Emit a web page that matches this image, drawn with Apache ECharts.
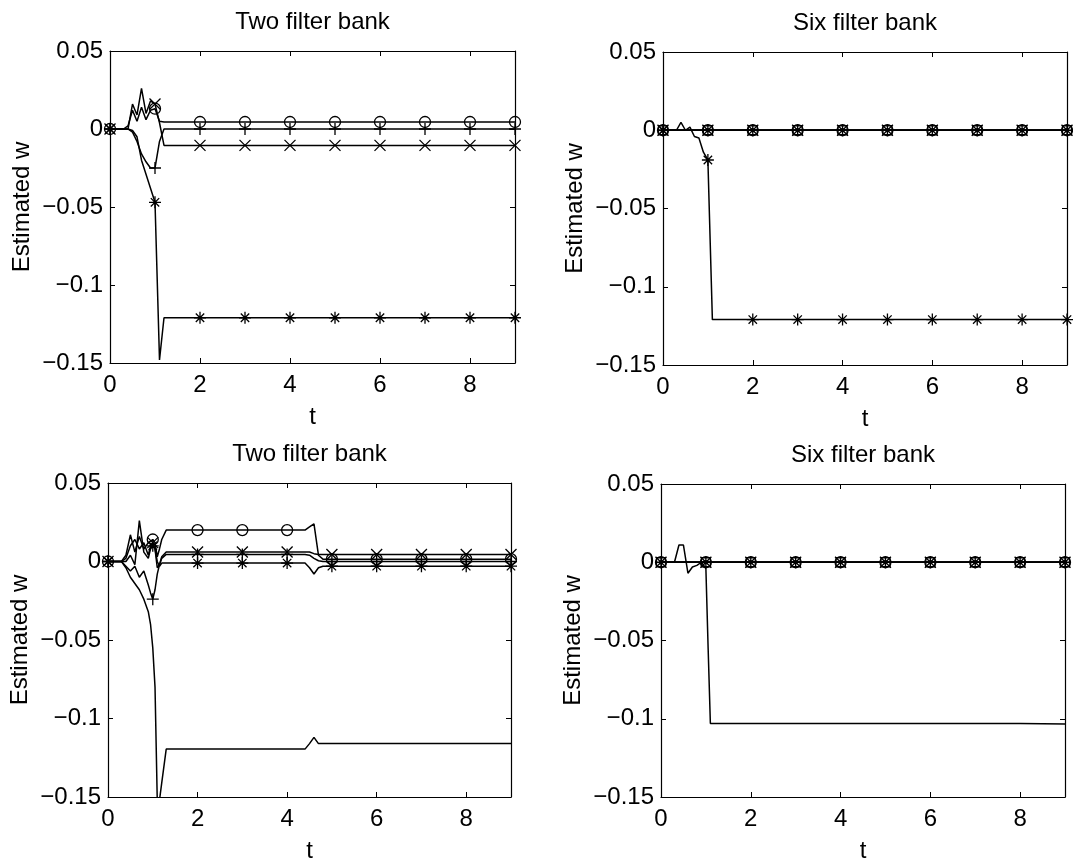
<!DOCTYPE html>
<html>
<head>
<meta charset="utf-8">
<script src="https://cdn.jsdelivr.net/npm/echarts@6/dist/echarts.min.js"></script>
<style>
  html, body { margin: 0; padding: 0; background: #fff; }
  #chart { width: 1073px; height: 864px; }
</style>
</head>
<body>
<div id="chart"></div>
<script>
// ---- data ----
const titles = ['Two filter bank', 'Six filter bank', 'Two filter bank', 'Six filter bank'];
const xTicks = [0, 2, 4, 6, 8];
const yTicks = [-0.15, -0.1, -0.05, 0, 0.05];

// top left: two filter bank
const tA = [0, 0.1, 0.2, 0.3, 0.4, 0.5, 0.6, 0.7, 0.8, 0.9, 1, 1.1, 1.2, 2, 3, 4, 5, 6, 7, 8, 9];
const aO = [0, 0, 0, 0, 0.002, 0.012, 0.005, 0.014, 0.006, 0.012, 0.013, 0.005, 0.0045, 0.0045, 0.0045, 0.0045, 0.0045, 0.0045, 0.0045, 0.0045, 0.0045];
const aX = [0, 0, 0, 0, 0, 0.016, 0.009, 0.026, 0.010, 0.018, 0.016, 0.004, -0.0105, -0.0105, -0.0105, -0.0105, -0.0105, -0.0105, -0.0105, -0.0105, -0.0105];
const aP = [0, 0, 0, 0, 0, -0.002, -0.008, -0.016, -0.021, -0.025, -0.025, -0.008, 0, 0, 0, 0, 0, 0, 0, 0, 0];
const aS = [0, 0, 0, 0, 0, -0.001, -0.005, -0.020, -0.029, -0.038, -0.047, -0.148, -0.121, -0.121, -0.121, -0.121, -0.121, -0.121, -0.121, -0.121, -0.121];

// top right: six filter bank
const tB = [0, 0.1, 0.2, 0.3, 0.4, 0.5, 0.6, 0.7, 0.8, 0.9, 1, 1.1, 1.2, 2, 3, 4, 5, 6, 7, 8, 9];
const bFlat = [0, 0, 0, 0, 0, 0, 0, 0, 0, 0, 0, 0, 0, 0, 0, 0, 0, 0, 0, 0, 0];
const bS = [0, 0, 0, 0, 0.005, 0, 0.002, -0.004, -0.005, -0.014, -0.019, -0.121, -0.121, -0.121, -0.121, -0.121, -0.121, -0.121, -0.121, -0.121, -0.121];

// bottom left: two filter bank
const tC = [0, 0.1, 0.2, 0.3, 0.4, 0.5, 0.6, 0.7, 0.8, 0.9, 0.95, 1, 1.05, 1.1, 1.15, 1.2, 1.3, 2, 3, 4, 4.4, 4.5, 4.6, 4.7, 4.8, 5, 6, 7, 8, 9];
const cO = [0, 0, 0, 0, 0.004, 0.017, 0.006, 0.016, 0.008, 0.012, 0.013, 0.014, 0.012, 0.003, 0.008, 0.014, 0.020, 0.020, 0.020, 0.020, 0.020, 0.022, 0.024, 0.004, 0.0015, 0.0015, 0.0015, 0.0015, 0.0015, 0.0015];
const cX = [0, 0, 0, 0, 0.002, 0.010, 0.014, 0.008, 0.012, 0.004, 0.010, 0.012, 0.008, -0.004, -0.002, 0.003, 0.006, 0.006, 0.006, 0.006, 0.006, 0.006, 0.005, 0.0045, 0.0045, 0.0045, 0.0045, 0.0045, 0.0045, 0.0045];
const cP = [0, 0, 0, 0, -0.003, -0.006, -0.003, -0.010, -0.006, -0.015, -0.020, -0.024, -0.018, -0.008, -0.002, 0.002, 0.0045, 0.0045, 0.0045, 0.0045, 0.0045, 0.004, 0.002, 0.0005, 0, 0, 0, 0, 0, 0];
const cS = [0, 0, 0, 0, 0, 0.004, -0.002, 0.026, 0.006, 0.002, 0.008, 0.010, 0.008, 0, -0.003, -0.001, -0.001, -0.001, -0.001, -0.001, -0.001, -0.004, -0.008, -0.004, -0.003, -0.003, -0.003, -0.003, -0.003, -0.003];
const cU = [0, 0, 0, 0, -0.004, -0.010, -0.014, -0.018, -0.024, -0.032, -0.040, -0.055, -0.080, -0.152, -0.152, -0.141, -0.1195, -0.1195, -0.1195, -0.1195, -0.1195, -0.116, -0.112, -0.116, -0.116, -0.116, -0.116, -0.116, -0.116, -0.116];

// bottom right: six filter bank
const tD = [0, 0.1, 0.2, 0.3, 0.4, 0.5, 0.6, 0.7, 0.8, 0.9, 1, 1.05, 1.1, 1.2, 2, 3, 4, 5, 6, 7, 8, 9];
const dFlat = [0, 0, 0, 0, 0, 0, 0, 0, 0, 0, 0, 0, 0, 0, 0, 0, 0, 0, 0, 0, 0, 0];
const dU = [0, 0, 0, 0, 0.011, 0.011, -0.007, -0.003, -0.002, 0, -0.004, -0.055, -0.103, -0.103, -0.103, -0.103, -0.103, -0.103, -0.103, -0.103, -0.103, -0.1033];

// ---- styling ----
const FONT = 'Liberation Sans, Arial, Helvetica, sans-serif';
const FS = 24;
const MARKS = {
  o:   { symbol: 'circle', size: 11 },
  x:   { symbol: 'path://M0,0L10,10M10,0L0,10', size: 11 },
  p:   { symbol: 'path://M0,5L10,5M5,0L5,10', size: 12 },
  s:   { symbol: 'path://M0,5L10,5M5,0L5,10M1.5,1.5L8.5,8.5M8.5,1.5L1.5,8.5', size: 12 },
  sq:  { symbol: 'rect', size: 9 },
  dot: { symbol: 'circle', size: 3 }
};

const grids = [
  { left: 110, top: 51, width: 405, height: 312 },
  { left: 663, top: 52, width: 404, height: 313 },
  { left: 108, top: 483, width: 403, height: 316 },
  { left: 661, top: 484, width: 404, height: 317 }
];

function fmtY(v) {
  const r = Math.round(v * 100) / 100;
  return r === 0 ? '0' : String(r).replace('-', '\u2212');
}

function xAxisFor(i, main) {
  return {
    type: 'value', gridIndex: i, min: 0, max: 9, interval: 2,
    position: main ? 'bottom' : 'top',
    name: main ? 't' : '', nameLocation: 'middle', nameGap: 42,
    nameTextStyle: { fontFamily: FONT, fontSize: FS, color: '#000' },
    axisLine: { show: true, onZero: false, lineStyle: { color: '#000', width: 1.2 } },
    axisTick: { show: true, inside: true, length: 5, lineStyle: { color: '#000' } },
    axisLabel: { show: main, margin: 10, fontFamily: FONT, fontSize: FS, color: '#000',
      formatter: v => (v === 9 ? '' : String(v)) },
    splitLine: { show: false }
  };
}

function yAxisFor(i, main) {
  return {
    type: 'value', gridIndex: i, min: -0.15, max: 0.05, interval: 0.05,
    position: main ? 'left' : 'right',
    name: main ? 'Estimated w' : '', nameLocation: 'middle', nameGap: 76,
    nameTextStyle: { fontFamily: FONT, fontSize: FS, color: '#000' },
    axisLine: { show: true, onZero: false, lineStyle: { color: '#000', width: 1.2 } },
    axisTick: { show: true, inside: true, length: 5, lineStyle: { color: '#000' } },
    axisLabel: { show: main, margin: 7, fontFamily: FONT, fontSize: FS, color: '#000', formatter: fmtY },
    splitLine: { show: false }
  };
}

function line(gi, t, w, mark) {
  const m = mark ? MARKS[mark] : null;
  return {
    type: 'line', xAxisIndex: gi, yAxisIndex: gi,
    data: t.map((v, k) => [v, w[k]]),
    symbol: m ? (val => (Number.isInteger(val[0]) ? m.symbol : 'none')) : 'none',
    symbolSize: m ? m.size : 0,
    showSymbol: !!m,
    lineStyle: { color: '#000', width: 1.5 },
    itemStyle: { color: mark === 'dot' ? '#000' : 'rgba(0,0,0,0)', borderColor: '#000', borderWidth: 1.3 },
    silent: true
  };
}

const series = [
  line(0, tA, aO, 'o'), line(0, tA, aX, 'x'), line(0, tA, aP, 'p'), line(0, tA, aS, 's'),
  line(1, tB, bFlat, 'o'), line(1, tB, bFlat, 'x'), line(1, tB, bFlat, 'p'),
  line(1, tB, bFlat, 'sq'), line(1, tB, bFlat, 'dot'), line(1, tB, bS, 's'),
  line(2, tC, cU), line(2, tC, cO, 'o'), line(2, tC, cX, 'x'), line(2, tC, cP, 'p'), line(2, tC, cS, 's'),
  line(3, tD, dU), line(3, tD, dFlat, 'o'), line(3, tD, dFlat, 'x'), line(3, tD, dFlat, 'p'),
  line(3, tD, dFlat, 'sq'), line(3, tD, dFlat, 'dot')
];

const chart = echarts.init(document.getElementById('chart'));
chart.setOption({
  backgroundColor: '#fff',
  animation: false,
  title: grids.map((g, i) => ({
    text: titles[i], left: g.left + g.width / 2, top: g.top - 41, textAlign: 'center', padding: 0,
    textStyle: { fontFamily: FONT, fontSize: FS, fontWeight: 'normal', color: '#000' }
  })),
  grid: grids,
  xAxis: [0, 1, 2, 3].map(i => xAxisFor(i, true)).concat([0, 1, 2, 3].map(i => xAxisFor(i, false))),
  yAxis: [0, 1, 2, 3].map(i => yAxisFor(i, true)).concat([0, 1, 2, 3].map(i => yAxisFor(i, false))),
  series: series
});
</script>
</body>
</html>
